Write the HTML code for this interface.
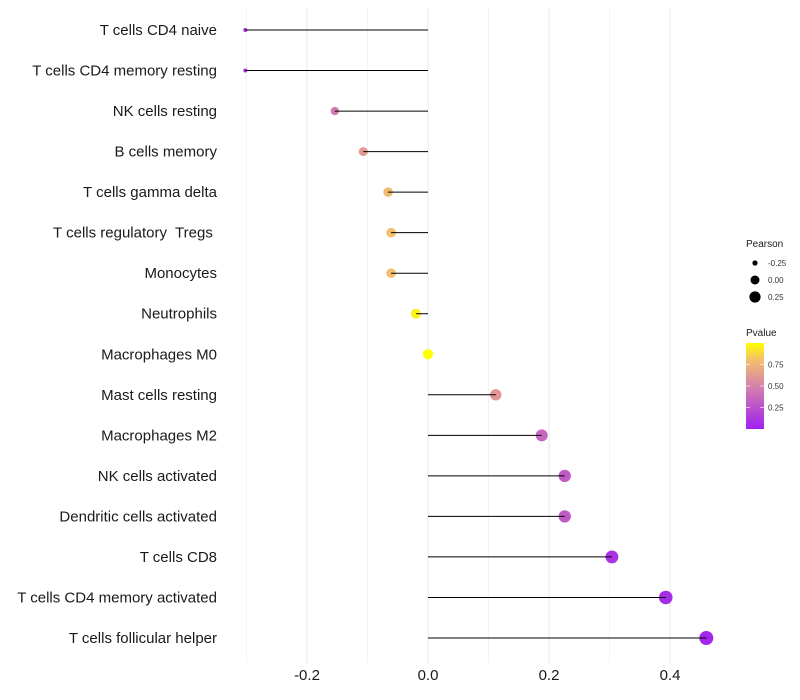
<!DOCTYPE html>
<html><head><meta charset="utf-8">
<style>
html,body{margin:0;padding:0;background:#fff;}
svg{display:block;font-family:"Liberation Sans",sans-serif;}
.pre{white-space:pre;}
</style></head>
<body>
<svg id="chart" width="800" height="700"></svg>
<script>
const categories = ["T cells CD4 naive","T cells CD4 memory resting","NK cells resting","B cells memory","T cells gamma delta","T cells regulatory  Tregs ","Monocytes","Neutrophils","Macrophages M0","Mast cells resting","Macrophages M2","NK cells activated","Dendritic cells activated","T cells CD8","T cells CD4 memory activated","T cells follicular helper"];
const pearson = [-0.302,-0.302,-0.154,-0.107,-0.066,-0.061,-0.061,-0.020,0.0,0.112,0.188,0.226,0.226,0.304,0.393,0.460];
const pvalues = [0.08,0.08,0.45,0.62,0.78,0.80,0.80,0.96,1.0,0.60,0.36,0.30,0.30,0.10,0.06,0.03];
const xTicks = [-0.2,0.0,0.2,0.4];
const xTickLabels = ["-0.2","0.0","0.2","0.4"];
const xGrid = [-0.3,-0.2,-0.1,0.0,0.1,0.2,0.3,0.4];
const sizeLegend = [-0.25,0.0,0.25];
const colorLegendTicks = [0.75,0.50,0.25];

const NS="http://www.w3.org/2000/svg";
const svg=document.getElementById('chart');
function el(t,a,p){const e=document.createElementNS(NS,t);for(const k in a)e.setAttribute(k,a[k]);(p||svg).appendChild(e);return e;}
const x=v=>428+v*605;
const y=i=>30+i*(608/15);
const r=v=>{const t=Math.max(0,(v+0.302)/0.762);return 2+5*Math.sqrt(t);};
function lerp(a,b,t){return a+(b-a)*t;}
const stops=[[0,[160,32,240]],[0.5,[214,130,170]],[0.8,[243,190,110]],[1,[255,255,0]]];
function col(p){p=Math.max(0,Math.min(1,p));for(let k=1;k<stops.length;k++){if(p<=stops[k][0]){const a=stops[k-1],b=stops[k];const t=(p-a[0])/(b[0]-a[0]);return `rgb(${[0,1,2].map(j=>Math.round(lerp(a[1][j],b[1][j],t))).join(',')})`;}}return 'rgb(255,255,0)';}

xGrid.forEach(v=>{const g=el('line',{x1:x(v),x2:x(v),y1:8,y2:663,stroke:'#ebebeb','stroke-width':xTicks.includes(v)?1.1:0.6});
});
xTicks.forEach((v,i)=>{const t=el('text',{x:x(v),y:680,'text-anchor':'middle','font-size':15,fill:'#1a1a1a'});t.textContent=xTickLabels[i];
});
categories.forEach((c,i)=>{
 const t=el('text',{x:217,y:y(i)+5,'text-anchor':'end','font-size':15,fill:'#1a1a1a','class':'pre'});t.textContent=c;
 
 const d=el('circle',{cx:x(pearson[i]),cy:y(i),r:r(pearson[i]),fill:col(pvalues[i])});
 
 const l=el('line',{x1:x(0),x2:x(pearson[i]),y1:y(i),y2:y(i),stroke:'#000','stroke-width':1});
 
});
// legends
const lt=el('text',{x:746,y:247,'font-size':10,fill:'#1a1a1a'});lt.textContent='Pearson';

const legR=[2.6,4.5,5.6];
sizeLegend.forEach((v,i)=>{const cy=263+i*17;
 const c=el('circle',{cx:755,cy:cy,r:legR[i],fill:'#000'});
 const t=el('text',{x:768,y:cy+3,'font-size':8,fill:'#333'});t.textContent=v===0?'0.00':v.toFixed(2);
 });
const pt=el('text',{x:746,y:336,'font-size':10,fill:'#1a1a1a'});pt.textContent='Pvalue';

const defs=el('defs',{});const gr=el('linearGradient',{id:'pg',x1:0,y1:1,x2:0,y2:0},defs);
stops.forEach(s=>el('stop',{offset:s[0],'stop-color':`rgb(${s[1].join(',')})`},gr));
const bar=el('rect',{x:746,y:343,width:18,height:86,fill:'url(#pg)'});

colorLegendTicks.forEach(v=>{const yy=429-v*86;
 el('line',{x1:746,x2:750,y1:yy,y2:yy,stroke:'#fff','stroke-opacity':0.6});el('line',{x1:760,x2:764,y1:yy,y2:yy,stroke:'#fff','stroke-opacity':0.6});
 const t=el('text',{x:768,y:yy+3,'font-size':8,fill:'#333'});t.textContent=v.toFixed(2);
 });
</script>
</body></html>
